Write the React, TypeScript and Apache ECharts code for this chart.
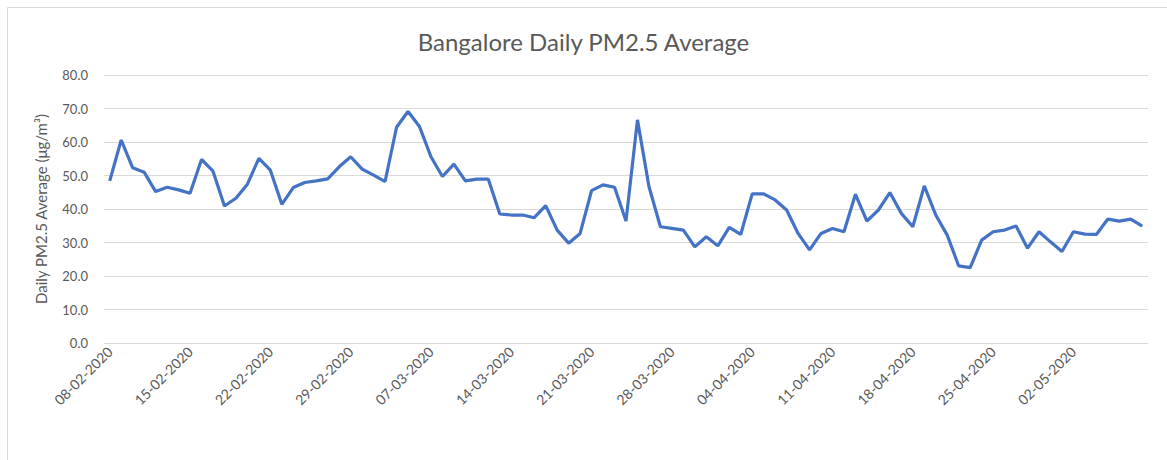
import React, { useEffect, useRef } from "react";
import * as echarts from "echarts";

const startDate = { day: 8, month: 2, year: 2020 };
const dayCount = 91;

const pm25Values: number[] = [
  48.4, 60.6, 52.3, 51.0, 45.2, 46.5, 45.7, 44.7, 54.8, 51.3,
  40.9, 43.2, 47.4, 55.1, 51.6, 41.4, 46.4, 47.9, 48.4, 49.0,
  52.6, 55.6, 51.9, 50.1, 48.2, 64.4, 69.1, 64.6, 55.6, 49.7,
  53.4, 48.4, 48.9, 48.9, 38.5, 38.2, 38.2, 37.4, 41.0, 33.7,
  29.8, 32.7, 45.5, 47.2, 46.5, 36.4, 66.6, 46.7, 34.7, 34.2,
  33.7, 28.7, 31.7, 29.0, 34.5, 32.4, 44.5, 44.5, 42.7, 39.7,
  32.7, 27.8, 32.7, 34.2, 33.2, 44.4, 36.4, 39.7, 44.9, 38.7,
  34.7, 46.9, 38.2, 32.2, 23.0, 22.5, 30.7, 33.2, 33.7, 34.9,
  28.3, 33.2, 30.2, 27.3, 33.2, 32.5, 32.4, 37.0, 36.4, 37.0,
  34.9,
];

const yTicks = { min: 0, max: 80, interval: 10 };

const titleText = "Bangalore Daily PM2.5 Average";
const yAxisTitle = "Daily PM2.5 Average (μg/m³)";

function buildDates(): string[] {
  const out: string[] = [];
  const d = new Date(Date.UTC(startDate.year, startDate.month - 1, startDate.day));
  for (let i = 0; i < dayCount; i++) {
    const dd = String(d.getUTCDate()).padStart(2, "0");
    const mm = String(d.getUTCMonth() + 1).padStart(2, "0");
    out.push(`${dd}-${mm}-${d.getUTCFullYear()}`);
    d.setUTCDate(d.getUTCDate() + 1);
  }
  return out;
}

const dates = buildDates();

export default function App() {
  const ref = useRef<HTMLDivElement>(null);
  useEffect(() => {
    if (!ref.current) return;
    const chart = echarts.init(ref.current, undefined, { renderer: "svg" });
    const font = "Lato, 'Open Sans', sans-serif";
    chart.setOption({
      animation: false,
      backgroundColor: "#ffffff",
      textStyle: { fontFamily: font },
      title: {
        text: titleText,
        left: "center",
        top: 24,
        textStyle: { fontSize: 24, fontWeight: "normal", color: "#595959", fontFamily: font },
      },
      graphic: [
        {
          type: "rect",
          shape: { x: 7.5, y: 7.5, width: 1170, height: 470 },
          style: { fill: "none", stroke: "#d9d9d9", lineWidth: 1 },
          silent: true,
        },
      ],
      grid: { left: 104, right: 19, top: 75, bottom: 117 },
      xAxis: {
        type: "category",
        data: dates,
        boundaryGap: true,
        axisLine: { lineStyle: { color: "#d9d9d9", width: 1 } },
        axisTick: { interval: 6, alignWithLabel: false, length: 5, lineStyle: { color: "#d9d9d9" } },
        axisLabel: {
          interval: 6,
          rotate: 45,
          fontSize: 14,
          color: "#595959",
          fontFamily: font,
          margin: 6,
        },
        splitLine: { show: false },
      },
      yAxis: {
        type: "value",
        min: yTicks.min,
        max: yTicks.max,
        interval: yTicks.interval,
        name: yAxisTitle,
        nameLocation: "middle",
        nameGap: 56,
        nameRotate: 90,
        nameTextStyle: { fontSize: 15, color: "#595959", fontFamily: font },
        axisLine: { show: false },
        axisTick: { show: false },
        axisLabel: {
          fontSize: 13,
          color: "#595959",
          fontFamily: font,
          margin: 16,
          formatter: (v: number) => v.toFixed(1),
        },
        splitLine: { lineStyle: { color: "#d9d9d9", width: 1 } },
      },
      series: [
        {
          type: "line",
          data: pm25Values,
          symbol: "none",
          lineStyle: { color: "#4472C4", width: 3.2 },
          itemStyle: { color: "#4472C4" },
        },
      ],
    });
    return () => chart.dispose();
  }, []);
  return (
    <div
      ref={ref}
      style={{ position: "fixed", left: 0, top: 0, width: 1167, height: 460 }}
    />
  );
}
